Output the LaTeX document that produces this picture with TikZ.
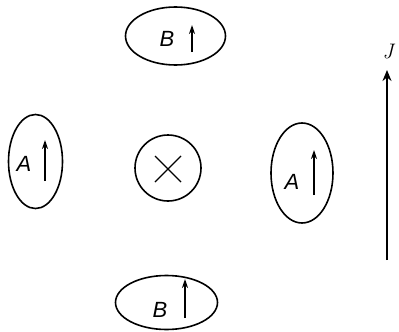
\documentclass[tikz,border=0pt]{standalone}
\usepackage{fontspec}
\setsansfont{Liberation Sans}
\usetikzlibrary{arrows.meta}
\begin{document}
\begin{tikzpicture}[x=1pt,y=-1pt,
  loop/.style={draw,line width=1.6pt},
  lbl/.style={font=\fontsize{22}{26}\selectfont\sffamily\itshape},
  spin/.style={line width=1.4pt,-{Stealth[length=9pt,width=6pt]}}]
\useasboundingbox (0,0) rectangle (399,332);
% top B
\draw[loop] (175.5,36) ellipse [x radius=50, y radius=29];
\node[lbl] (tB) at (167,39) {B};
\coordinate (tBs) at (192,52); \coordinate (tBe) at (192,25);
\draw[spin] (tBs) -- (tBe);
% left A
\draw[loop] (35.5,161.5) ellipse [x radius=27, y radius=47];
\node[lbl] (lA) at (24,164) {A};
\coordinate (lAs) at (45,181); \coordinate (lAe) at (45,140);
\draw[spin] (lAs) -- (lAe);
% center
\node[draw,circle,line width=1.6pt,minimum size=66pt,inner sep=0pt] (c) at (168,168) {};
\draw[line width=1.4pt] (155,156) -- (181,182) (181,156) -- (155,182);
% right A
\draw[loop] (302,173) ellipse [x radius=31, y radius=50];
\node[lbl] (rA) at (292,182) {A};
\coordinate (rAs) at (314,195); \coordinate (rAe) at (314,150);
\draw[spin] (rAs) -- (rAe);
% bottom B
\draw[loop] (166.5,302.5) ellipse [x radius=51, y radius=27];
\node[lbl] (bB) at (160,310) {B};
\coordinate (bBs) at (185,318); \coordinate (bBe) at (185,279);
\draw[spin] (bBs) -- (bBe);
% J
\coordinate (J0) at (387,260); \coordinate (J1) at (387,70);
\draw[line width=2.4pt,-{Stealth[length=11pt,width=9pt]}] (J0) -- (J1);
\node[font=\fontsize{21}{24}\selectfont\itshape] (Jl) at (388,52) {J};
\end{tikzpicture}
\end{document}
